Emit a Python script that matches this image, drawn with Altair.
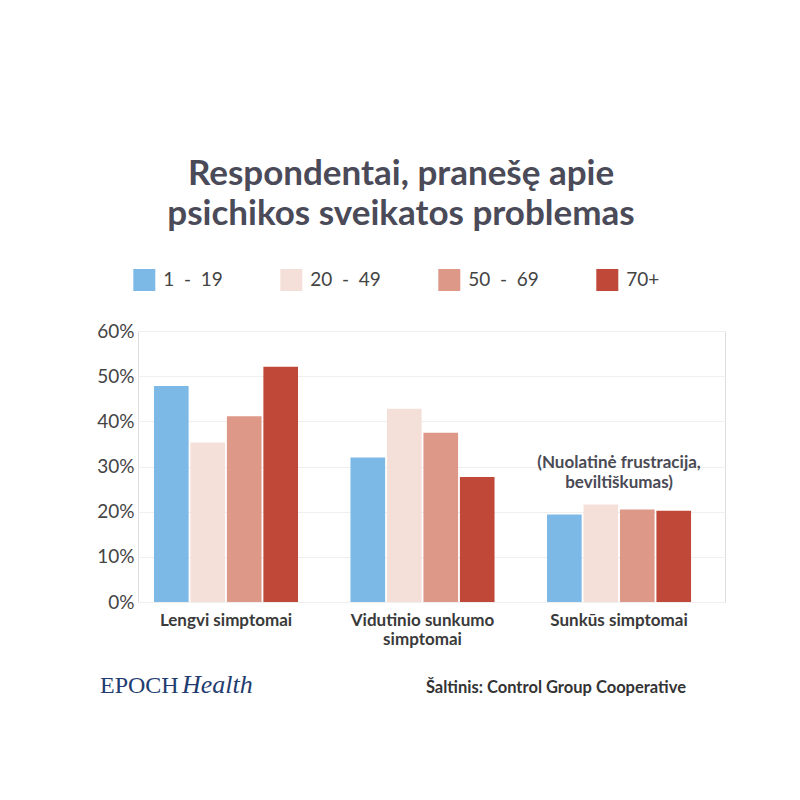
import altair as alt
import pandas as pd

# ---- data ----
groups = ["Lengvi simptomai", "Vidutinio sunkumo|simptomai", "Sunkūs simptomai"]
ages = ["1\u00a0\u00a0-\u00a0\u00a019", "20\u00a0\u00a0-\u00a0\u00a049", "50\u00a0\u00a0-\u00a0\u00a069", "70+"]
vals_1_19 = [47.8, 32.0, 19.4]
vals_20_49 = [35.3, 42.8, 21.6]
vals_50_69 = [41.1, 37.5, 20.5]
vals_70 = [52.1, 27.7, 20.2]
colors = ["#7db9e6", "#f5e0d9", "#de9888", "#c04838"]
y_ticks = [0, 10, 20, 30, 40, 50, 60]

title_lines = ["Respondentai, pranešę apie", "psichikos sveikatos problemas"]
note_text = "(Nuolatinė frustracija,\nbeviltiškumas)"
note_group = "Sunkūs simptomai"
brand_a = "EPOCH"
brand_b = "Health"
source_text = "Šaltinis: Control Group Cooperative"

rows = []
for i, g in enumerate(groups):
    for a, series in zip(ages, [vals_1_19, vals_20_49, vals_50_69, vals_70]):
        rows.append({"group": g, "age": a, "value": series[i]})
df = pd.DataFrame(rows)

FONT = "Lato"
W, H = 587, 271

x_enc = alt.X(
    "group:N",
    sort=groups,
    scale=alt.Scale(paddingInner=0.267, paddingOuter=0.127, align=0.32),
    axis=alt.Axis(
        title=None, labelAngle=0, domain=False, ticks=False,
        labelFont=FONT, labelFontSize=17, labelFontWeight="bold",
        labelColor="#3a3a3a", labelPadding=10, labelBaseline="top",
        labelLineHeight=19, labelExpr="split(datum.label, '|')",
    ),
)

bars = alt.Chart(df).mark_bar().encode(
    x=x_enc,
    xOffset=alt.XOffset("age:N", sort=ages, scale=alt.Scale(paddingInner=0.05, paddingOuter=0)),
    y=alt.Y(
        "value:Q",
        scale=alt.Scale(domain=[0, 60], nice=False),
        axis=alt.Axis(
            title=None, values=y_ticks, labelExpr="datum.value + '%'",
            domain=False, ticks=False, grid=True, gridColor="#efefef",
            labelFont=FONT, labelFontSize=19, labelColor="#444444", labelPadding=4,
        ),
    ),
    color=alt.Color(
        "age:N", sort=ages,
        scale=alt.Scale(domain=ages, range=colors),
        legend=alt.Legend(
            title=None, orient="none", legendX=-4.7, legendY=-62,
            direction="horizontal", symbolType="square", symbolSize=484,
            symbolStrokeWidth=0, symbolOpacity=1, labelFont=FONT, labelFontSize=19,
            labelColor="#444444", labelOffset=8, columnPadding=57, padding=0,
        ),
    ),
)

note = alt.Chart(pd.DataFrame({"group": [note_group], "t": [note_text]})).mark_text(
    font=FONT, fontSize=17, fontWeight="bold", color="#4a4a55",
    lineBreak="\n", lineHeight=20, baseline="alphabetic", align="center",
).encode(x=alt.X("group:N", sort=groups), y=alt.value(137), text="t:N")

t1 = alt.Chart(pd.DataFrame({"t": [title_lines[0]]})).mark_text(
    font=FONT, fontSize=35, fontWeight="bold", color="#4a4a58", align="center", baseline="alphabetic"
).encode(x=alt.value(263), y=alt.value(-146), text="t:N")
t2 = alt.Chart(pd.DataFrame({"t": [title_lines[1]]})).mark_text(
    font=FONT, fontSize=35, fontWeight="bold", color="#4a4a58", align="center", baseline="alphabetic"
).encode(x=alt.value(263), y=alt.value(-106), text="t:N")

b1 = alt.Chart(pd.DataFrame({"t": [brand_a]})).mark_text(
    font="Liberation Serif", fontSize=24, color="#1f3d70", align="left", baseline="alphabetic"
).encode(x=alt.value(-38), y=alt.value(362), text="t:N")
b2 = alt.Chart(pd.DataFrame({"t": [brand_b]})).mark_text(
    font="Liberation Serif", fontSize=26, fontStyle="italic", color="#1f3d70", align="left", baseline="alphabetic"
).encode(x=alt.value(44), y=alt.value(362), text="t:N")

src = alt.Chart(pd.DataFrame({"t": [source_text]})).mark_text(
    font=FONT, fontSize=16.5, fontWeight="bold", color="#333333", align="right", baseline="alphabetic"
).encode(x=alt.value(548), y=alt.value(362), text="t:N")

chart = alt.layer(bars, note, t1, t2, b1, b2, src).properties(
    width=W, height=H,
    autosize=alt.AutoSizeParams(type="none"),
    padding={"left": 130, "top": 323, "right": 60, "bottom": 180},
).configure_view(stroke=None).configure(background="white")

chart.save("out.html", embed_options={"renderer": "svg", "actions": False})
